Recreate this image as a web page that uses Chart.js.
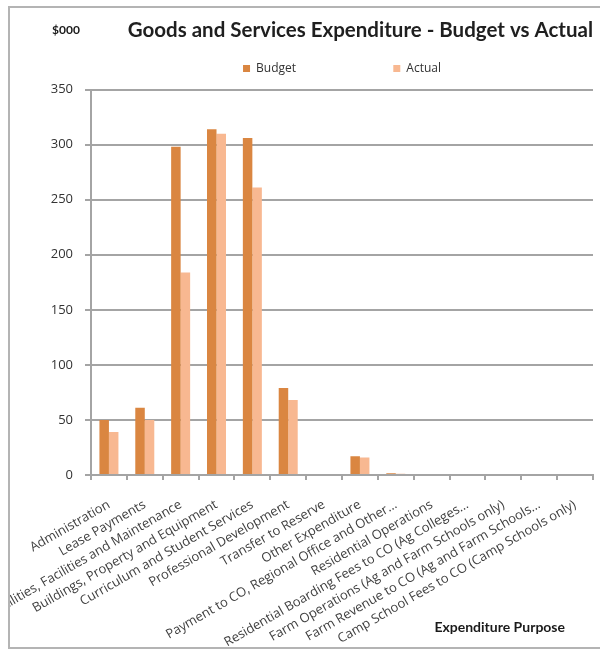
<!DOCTYPE html>
<html>
<head>
<meta charset="utf-8">
<script src="https://cdn.jsdelivr.net/npm/chart.js@4.4.1/dist/chart.umd.min.js"></script>
<style>
  html, body { margin: 0; padding: 0; background: #fff; }
  body { width: 606px; height: 650px; position: relative; overflow: hidden; }
  .frame { position: absolute; left: 8px; top: 6px; width: 590px; height: 639px;
    border-left: 2px solid #b4b4b4; border-top: 2px solid #b4b4b4; border-bottom: 2px solid #b4b4b4; }
  .chart-wrap { position: absolute; left: 10px; top: 8px; width: 596px; height: 638px; }
</style>
</head>
<body>
<div class="frame"></div>
<div class="chart-wrap"><canvas id="expenditure-chart"></canvas></div>
<script>
const chartTitle = 'Goods and Services Expenditure - Budget vs Actual'
const unitLabel = '$000'
const xTitle = 'Expenditure Purpose'

const categories = [
  'Administration',
  'Lease Payments',
  'Utilities, Facilities and Maintenance',
  'Buildings, Property and Equipment',
  'Curriculum and Student Services',
  'Professional Development',
  'Transfer to Reserve',
  'Other Expenditure',
  'Payment to CO, Regional Office and Other…',
  'Residential Operations',
  'Residential Boarding Fees to CO (Ag Colleges…',
  'Farm Operations (Ag and Farm Schools only)',
  'Farm Revenue to CO (Ag and Farm Schools…',
  'Camp School Fees to CO (Camp Schools only)'
]
const budget = [50, 61, 298, 314, 306, 79, 0, 17, 1.5, 0, 0, 0, 0, 0]
const actual = [39, 50, 184, 310, 261, 68, 0, 16, 1.2, 0, 0, 0, 0, 0]
const yTicks = [0, 50, 100, 150, 200, 250, 300, 350]

const gridColor = '#a4a4a4'
const font = 'Lato'
const labelFont = 'Open Sans'

// draws the "$000" unit note and the x axis caption
const captions = {
  id: 'captions',
  afterDraw(chart) {
    const ctx = chart.ctx
    ctx.save()
    ctx.fillStyle = '#1a1a1a'
    ctx.textBaseline = 'middle'
    ctx.font = 'bold 12px ' + font
    ctx.textAlign = 'left'
    ctx.fillText(unitLabel, 42, 22)
    ctx.font = 'bold 14px ' + font
    ctx.textAlign = 'right'
    ctx.fillText(xTitle, 555, 619)
    ctx.restore()
  }
}

const config = {
  type: 'bar',
  data: {
    labels: categories,
    datasets: [
      { label: 'Budget', data: budget, backgroundColor: '#da8641' },
      { label: 'Actual', data: actual, backgroundColor: '#f8b891' }
    ]
  },
  options: {
    responsive: true,
    maintainAspectRatio: false,
    animation: false,
    layout: { padding: { left: 0, right: 13, top: 0, bottom: 0 } },
    datasets: { bar: { categoryPercentage: 0.53, barPercentage: 1, borderWidth: 0 } },
    plugins: {
      title: {
        display: true, text: chartTitle, align: 'end', fullSize: false,
        color: '#1f1f1f', font: { family: font, size: 20.5, weight: 'bold' },
        padding: { top: 10, bottom: 10 }
      },
      legend: {
        position: 'top', fullSize: false,
        labels: {
          boxWidth: 7, boxHeight: 7, padding: 10, color: '#333',
          font: { family: labelFont, size: 12 },
          generateLabels: chart => Chart.defaults.plugins.legend.labels.generateLabels(chart)
            .map((item, i) => ({ ...item, text: i === 0 ? item.text + ' '.repeat(28) : item.text }))
        }
      },
      subtitle: {
        display: true, text: '', fullSize: false, weight: 500,
        font: { size: 1, lineHeight: 1 }, padding: { top: 0, bottom: 4 }
      },
      tooltip: { enabled: false }
    },
    scales: {
      x: {
        afterFit: s => { s.height = 171 },
        grid: { offset: true, drawOnChartArea: false, tickLength: 5, color: gridColor, lineWidth: 2 },
        border: { color: gridColor, width: 2 },
        ticks: {
          autoSkip: false, minRotation: 30, maxRotation: 30, padding: 17,
          color: '#404040', font: { family: labelFont, size: 13 }
        }
      },
      y: {
        min: 0, max: 350,
        afterBuildTicks: s => { s.ticks = yTicks.map(v => ({ value: v })) },
        afterFit: s => { s.width = 81 },
        grid: { color: gridColor, lineWidth: 2, tickLength: 6 },
        border: { color: gridColor, width: 2 },
        ticks: { padding: 12, color: '#333', font: { family: labelFont, size: 13 } }
      }
    }
  },
  plugins: [captions]
}

const myChart = new Chart(document.getElementById('expenditure-chart'), config)
</script>
</body>
</html>
